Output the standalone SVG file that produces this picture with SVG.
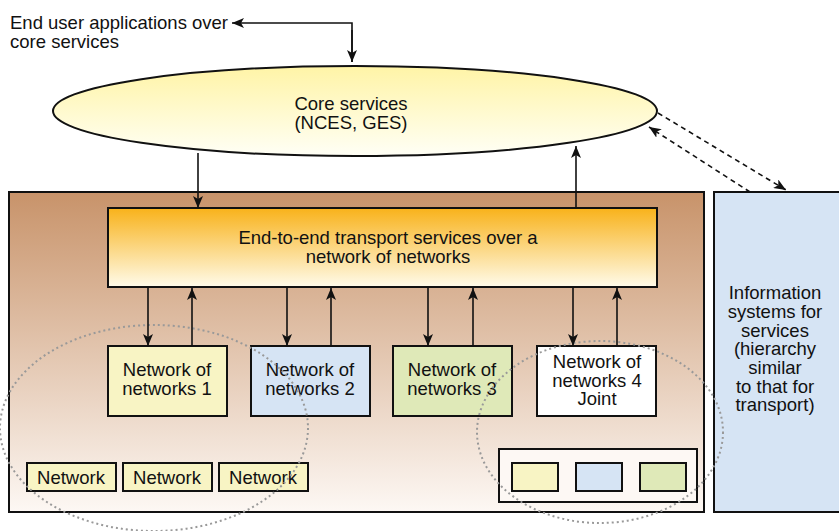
<svg xmlns="http://www.w3.org/2000/svg" width="839" height="531" viewBox="0 0 839 531">
<style>
text{font-family:"Liberation Sans",Arial,sans-serif;font-size:18.5px;fill:#111;text-anchor:middle}
.b{stroke:#111;stroke-width:2}
.c{fill:none;stroke:#111;stroke-width:1.6}
.d{fill:none;stroke:#111;stroke-width:1.6;stroke-dasharray:5 4}
.g{fill:none;stroke:#999;stroke-width:2;stroke-dasharray:2 3}
</style>
<defs>
<linearGradient id="gOuter" x1="0" y1="0" x2="0" y2="1"><stop offset="0" stop-color="#c8936a"/><stop offset="1" stop-color="#fdf8f4"/></linearGradient>
<linearGradient id="gTrans" x1="0" y1="0" x2="0" y2="1"><stop offset="0" stop-color="#f8b21a"/><stop offset="1" stop-color="#fffbea"/></linearGradient>
<linearGradient id="gCore" x1="0" y1="0" x2="0" y2="1"><stop offset="0" stop-color="#fff4a6"/><stop offset="1" stop-color="#fffff6"/></linearGradient>
<marker id="ah" viewBox="0 0 12 10" refX="12" refY="5" markerWidth="12" markerHeight="10" markerUnits="userSpaceOnUse" orient="auto"><path d="M0,0 L12,5 L0,10 L3,5 Z" fill="#111"/></marker>
</defs>
<g id="outer"><rect x="9" y="192" width="695" height="320" fill="url(#gOuter)" class="b"/></g>
<g id="info"><rect x="714" y="192" width="130" height="320" fill="#d6e4f4" class="b"/>
<text x="775" y="299">Information</text><text x="775" y="318">systems for</text><text x="775" y="337">services</text><text x="775" y="355">(hierarchy</text><text x="775" y="374">similar</text><text x="775" y="393">to that for</text><text x="775" y="411">transport)</text></g>
<g id="core"><ellipse cx="355" cy="111" rx="302" ry="45" fill="url(#gCore)" class="b"/>
<text x="351" y="110">Core services</text><text x="351" y="129">(NCES, GES)</text></g>
<g id="enduser"><text x="10" y="29" style="text-anchor:start">End user applications over</text><text x="10" y="48" style="text-anchor:start">core services</text></g>
<g id="transport"><rect x="108" y="208" width="549" height="79" fill="url(#gTrans)" class="b"/>
<text x="388" y="244">End-to-end transport services over a</text><text x="388" y="263">network of networks</text></g>
<g id="non1"><rect x="108" y="346" width="119" height="70" fill="#f8f4c4" class="b"/><text x="167" y="376">Network of</text><text x="167" y="395">networks 1</text></g>
<g id="non2"><rect x="251" y="346" width="119" height="70" fill="#d6e4f4" class="b"/><text x="310" y="376">Network of</text><text x="310" y="395">networks 2</text></g>
<g id="non3"><rect x="393" y="346" width="119" height="70" fill="#dfe9b8" class="b"/><text x="452" y="376">Network of</text><text x="452" y="395">networks 3</text></g>
<g id="non4"><rect x="537" y="346" width="119" height="70" fill="#ffffff" class="b"/><text x="597" y="368">Network of</text><text x="597" y="387">networks 4</text><text x="597" y="405">Joint</text></g>
<g id="net1"><rect x="27" y="463" width="89" height="28" fill="#f8f4c4" class="b"/><text x="71" y="484">Network</text></g>
<g id="net2"><rect x="123" y="463" width="89" height="28" fill="#f8f4c4" class="b"/><text x="167" y="484">Network</text></g>
<g id="net3"><rect x="219" y="463" width="89" height="28" fill="#f8f4c4" class="b"/><text x="263" y="484">Network</text></g>
<g id="joint"><rect x="499" y="449" width="198" height="53" fill="#fdf8f4" class="b"/>
<rect x="512" y="463" width="46" height="28" fill="#f8f4c4" class="b"/>
<rect x="576" y="463" width="46" height="28" fill="#d6e4f4" class="b"/>
<rect x="640" y="463" width="46" height="28" fill="#dfe9b8" class="b"/></g>
<g id="groups"><ellipse cx="154" cy="428" rx="154" ry="103" class="g"/><ellipse cx="600" cy="432" rx="123" ry="91" class="g"/></g>
<g id="connectors">
<path d="M352,62 V23 H232" class="c" marker-end="url(#ah)"/>
<path d="M352,30 V62" class="c" marker-end="url(#ah)"/>
<path d="M198,153 V208" class="c" marker-end="url(#ah)"/>
<path d="M576,208 V146" class="c" marker-end="url(#ah)"/>
<path d="M658,113 L786,190" class="d" marker-end="url(#ah)"/>
<path d="M750,192 L649,127" class="d" marker-end="url(#ah)"/>
<path d="M148,287 V346" class="c" marker-end="url(#ah)"/>
<path d="M192,346 V288" class="c" marker-end="url(#ah)"/>
<path d="M287,287 V346" class="c" marker-end="url(#ah)"/>
<path d="M331,346 V288" class="c" marker-end="url(#ah)"/>
<path d="M428,287 V346" class="c" marker-end="url(#ah)"/>
<path d="M473,346 V288" class="c" marker-end="url(#ah)"/>
<path d="M573,287 V346" class="c" marker-end="url(#ah)"/>
<path d="M617,346 V288" class="c" marker-end="url(#ah)"/>
</g>
</svg>
